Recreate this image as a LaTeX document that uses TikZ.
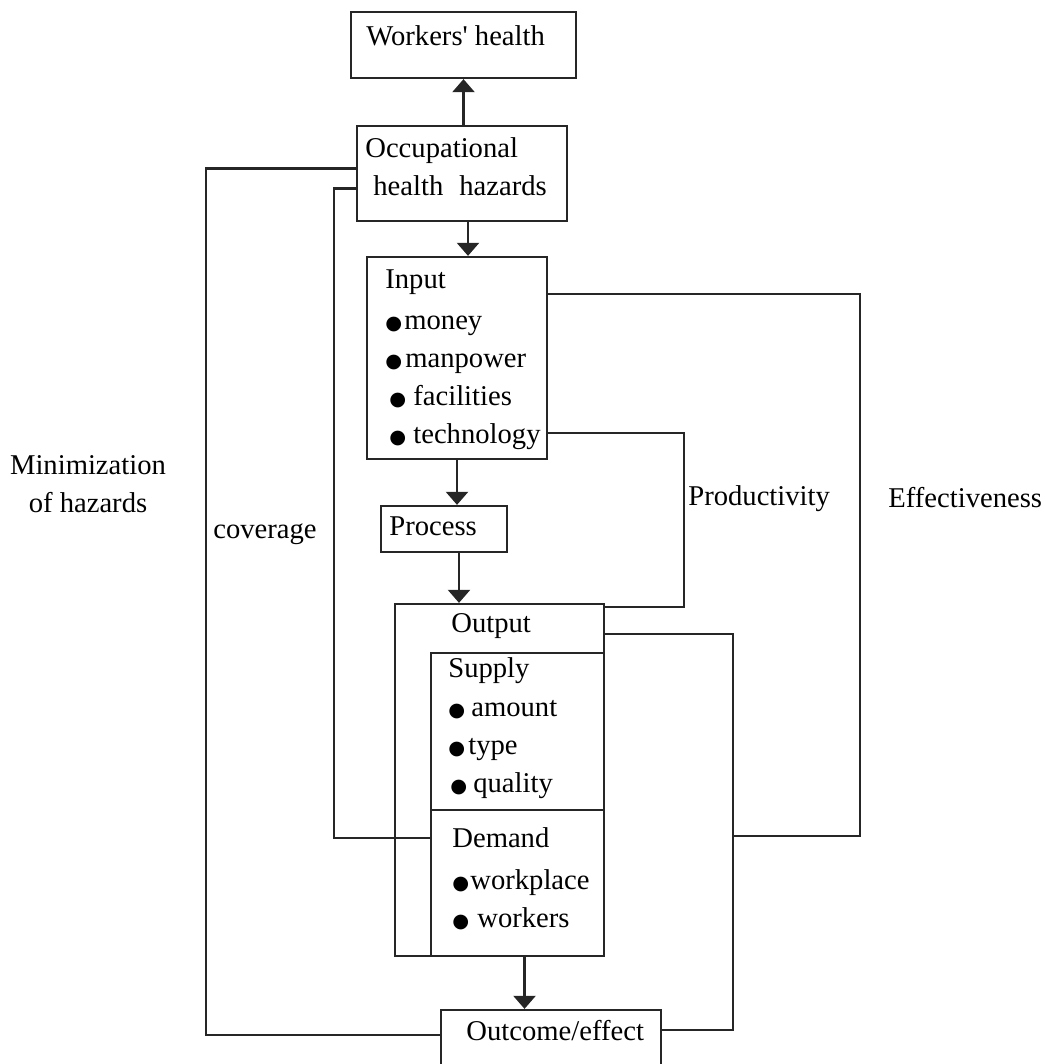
\documentclass[tikz,border=0pt]{standalone}
\usepackage{fontspec}
\setmainfont{Liberation Serif}[Ligatures=TeXOff]
\newfontfamily\symfont{DejaVu Sans}
\usetikzlibrary{positioning,calc,fit,arrows.meta}

\newcommand{\bul}{{\symfont\fontsize{11}{11}\selectfont ●}}
\newcommand{\bitem}[2]{\rlap{\bul}\hspace{#1}#2}

\tikzset{
  box/.style={draw=black!85, line width=1.3pt, inner sep=0pt},
  txt/.style={inner sep=0pt, anchor=base west, align=left,
    font=\fontsize{16.3}{21.6}\selectfont},
  wire/.style={draw=black!85, line width=1.3pt},
  arr/.style={wire, -{Triangle[width=0.44cm,length=0.26cm]}},
}

\begin{document}
\begin{tikzpicture}[x=0.02cm, y=-0.02cm]
\path[use as bounding box] (0,0) rectangle (1045,1064);
\clip (0,0) rectangle (1045,1064);

% boxes
\node[box, fit={(351,12) (576,78)}] (health) {};
\node[box, fit={(357,126) (567,221)}] (occ) {};
\node[box, fit={(367,257) (547,459)}] (input) {};
\node[box, fit={(381,506) (507,552)}] (process) {};
\node[box, fit={(395,604) (604,956)}] (output) {};
\node[box, fit={(431,653) (604,810)}] (supply) {};
\node[box, fit={(431,810) (604,956)}] (demand) {};
\node[box, fit={(441,1010) (661,1070)}] (outcome) {};

% texts in the boxes (multi-line ones sit on their last baseline)
\node[txt] (healthT) at (366,46) {Workers' health};
\node[txt] (occT) at (365,195) {Occupational\\\hspace{0.16cm}health\hspace{0.32cm}hazards};
\node[txt] (inputT) at (385,443) {Input\\[0.06cm]
  \bitem{0.38cm}{money}\\
  \bitem{0.40cm}{manpower}\\
  \hspace{0.08cm}\bitem{0.48cm}{facilities}\\
  \hspace{0.08cm}\bitem{0.48cm}{technology}};
\node[txt] (processT) at (389,535) {Process};
\node[txt] (outputT) at (451,632) {Output};
\node[txt] (supplyT) at (448,792) {Supply\\[0.02cm]
  \bitem{0.46cm}{amount}\\
  \bitem{0.40cm}{type}\\
  \hspace{0.04cm}\bitem{0.46cm}{quality}};
\node[txt] (demandT) at (452,927) {Demand\\[0.08cm]
  \bitem{0.36cm}{workplace}\\
  \bitem{0.50cm}{workers}};
\node[txt] (outcomeT) at (466,1040) {Outcome/effect};

% main chain
\draw[arr] (occ.north -| health.south) -- (health.south);
\draw[arr] ($(occ.south)+(6,0)$) coordinate (t1) -- (t1 |- input.north);
\draw[arr] (input.south) -- (input.south |- process.north);
\draw[arr] ($(process.south)+(15,0)$) coordinate (t2) -- (t2 |- output.north);
\draw[arr] ($(output.south)+(25,0)$) coordinate (t3) -- (t3 |- outcome.north);

% feedback lines
\coordinate (join) at (733,836);
\draw[wire] ($(occ.west)+(0,-5)$) -- ++(-150,0) |- ($(outcome.west)+(0,-5)$);
\draw[wire] ($(occ.west)+(0,15)$) -- ++(-22,0) |- ($(demand.west)+(0,-45)$);
\draw[wire] ($(input.east)+(0,-64)$) -- ++(312,0) |- (join);
\draw[wire] ($(input.east)+(0,75)$) -- ++(136,0) |- ($(output.east)+(0,-173)$);
\draw[wire] ($(output.east)+(0,-146)$) -| (join) |- ($(outcome.east)+(0,-10)$);

% labels
\node[txt, anchor=base, align=center] (minT) at (88,512) {Minimization\\of hazards};
\node[txt] (covT) at (213,538) {coverage};
\node[txt] (prodT) at (688,505) {Productivity};
\node[txt] (effT) at (888,507) {Effectiveness};
\end{tikzpicture}
\end{document}
